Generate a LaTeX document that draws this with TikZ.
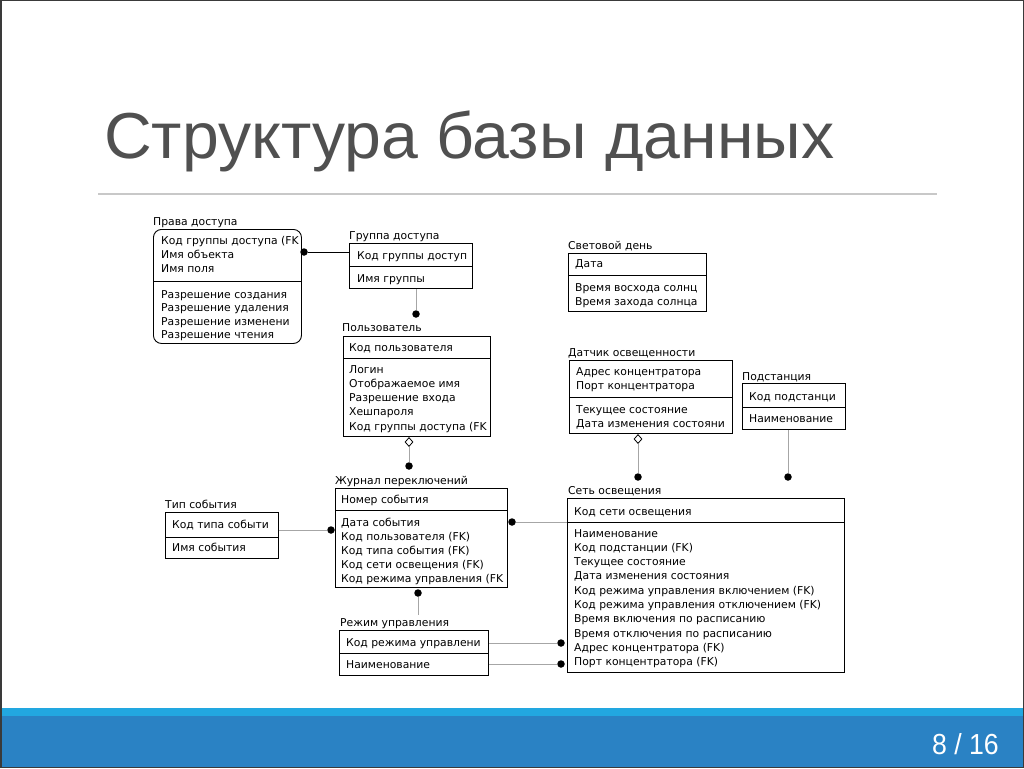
\documentclass[tikz,border=0pt]{standalone}
\usepackage{fontspec}
\setmainfont{DejaVu Sans}
\newfontfamily\tabfont{DejaVu Sans}
\newfontfamily\titlefont{Liberation Sans}
\usetikzlibrary{shapes.geometric}
\definecolor{titlegray}{HTML}{505050}
\definecolor{rulegray}{HTML}{C8C8C8}
\definecolor{linegray}{HTML}{A6A6A6}
\definecolor{barlight}{HTML}{22A7E0}
\definecolor{bardark}{HTML}{2A82C4}
\definecolor{framegray}{HTML}{3A3A3A}
\begin{document}
\begin{tikzpicture}[x=1pt,y=-1pt,
  tbl/.style={draw=black, line width=0.9pt, inner sep=0pt, anchor=north west},
  divl/.style={draw=black, line width=0.9pt},
  txt/.style={anchor=base west, inner sep=0pt, font=\tabfont\fontsize{10.8}{12}\selectfont},
  conn/.style={draw=linegray, line width=1pt},
  dot/.style={circle, fill=black, minimum size=7.5pt, inner sep=0pt},
  dia/.style={diamond, draw=black, fill=white, line width=0.8pt, minimum width=8pt, minimum height=9pt, inner sep=0pt}]
\useasboundingbox (0,0) rectangle (1024,768);
\fill[white] (0,0) rectangle (1024,768);
% title
\node[anchor=base west, inner sep=0pt, text=titlegray] (title) at (104,158)
  {\titlefont\fontsize{65}{65}\selectfont\scalebox{1.018}[1]{Структура базы данных}};
\draw[rulegray, line width=1.2pt] (98,194) -- (937,194);
% bottom bar
\fill[barlight] (0,708) rectangle (1024,716);
\fill[bardark] (0,716) rectangle (1024,768);
\node[anchor=base east, inner sep=0pt, text=white] (page) at (999,754)
  {\titlefont\fontsize{29}{29}\selectfont\scalebox{0.92}[1]{8 / 16}};
\draw[framegray, line width=1.5pt] (0.75,0.75) rectangle (1023.25,767.25);

% ---------- Права доступа
\node[tbl, rounded corners=8pt, minimum width=148pt, minimum height=114pt] (pd) at (153,229) {};
\node[txt] (pd-t) at (153,225) {Права доступа};
\draw[divl] (153,281) -- (301,281);
\begin{scope}
\clip (154,230) rectangle (300,342);
\foreach \t [count=\i from 0] in {Код группы доступа (FK, Имя объекта, Имя поля}
  \node[txt] (pd-k\i) at (161,244+14*\i) {\t};
\foreach \t [count=\i from 0] in {Разрешение создания, Разрешение удаления, Разрешение изменени, Разрешение чтения}
  \node[txt] (pd-a\i) at (161,298+13.6*\i) {\t};
\end{scope}

% ---------- Группа доступа
\node[tbl, minimum width=123pt, minimum height=45pt] (ga) at (349,243) {};
\node[txt] (ga-t) at (349,239) {Группа доступа};
\draw[divl] (349,266) -- (472,266);
\begin{scope}
\clip (350,244) rectangle (471,287);
\node[txt] (ga-k0) at (357,259) {Код группы доступ};
\node[txt] (ga-a0) at (357,282) {Имя группы};
\end{scope}

% ---------- Световой день
\node[tbl, minimum width=138pt, minimum height=58pt] (sd) at (568,253) {};
\node[txt] (sd-t) at (568,249) {Световой день};
\draw[divl] (568,275) -- (706,275);
\begin{scope}
\clip (569,254) rectangle (705,310);
\node[txt] (sd-k0) at (575,267) {Дата};
\node[txt] (sd-a0) at (575,291) {Время восхода солнц};
\node[txt] (sd-a1) at (575,305) {Время захода солнца};
\end{scope}

% ---------- Пользователь
\node[tbl, minimum width=147pt, minimum height=100pt] (us) at (343,336) {};
\node[txt] (us-t) at (342,331) {Пользователь};
\draw[divl] (343,358) -- (490,358);
\begin{scope}
\clip (344,337) rectangle (489,435);
\node[txt] (us-k0) at (349,351) {Код пользователя};
\foreach \t [count=\i from 0] in {Логин, Отображаемое имя, Разрешение входа, Хешпароля, Код группы доступа (FK}
  \node[txt] (us-a\i) at (349,373+14.3*\i) {\t};
\end{scope}

% ---------- Датчик освещенности
\node[tbl, minimum width=163pt, minimum height=73pt] (dt) at (569,360) {};
\node[txt] (dt-t) at (568,356) {Датчик освещенности};
\draw[divl] (569,397) -- (732,397);
\begin{scope}
\clip (570,361) rectangle (731,432);
\node[txt] (dt-k0) at (576,375) {Адрес концентратора};
\node[txt] (dt-k1) at (576,389) {Порт концентратора};
\node[txt] (dt-a0) at (576,413) {Текущее состояние};
\node[txt] (dt-a1) at (576,427) {Дата изменения состояни};
\end{scope}

% ---------- Подстанция
\node[tbl, minimum width=103pt, minimum height=46pt] (ps) at (742,383) {};
\node[txt] (ps-t) at (742,380) {Подстанция};
\draw[divl] (742,407) -- (845,407);
\begin{scope}
\clip (743,384) rectangle (844,428);
\node[txt] (ps-k0) at (749,400) {Код подстанци};
\node[txt] (ps-a0) at (749,422) {Наименование};
\end{scope}

% ---------- Тип события
\node[tbl, minimum width=113pt, minimum height=46pt] (te) at (165,512) {};
\node[txt] (te-t) at (165,508) {Тип события};
\draw[divl] (165,537) -- (278,537);
\begin{scope}
\clip (166,513) rectangle (277,557);
\node[txt] (te-k0) at (172,528) {Код типа событи};
\node[txt] (te-a0) at (172,551) {Имя события};
\end{scope}

% ---------- Журнал переключений
\node[tbl, minimum width=172pt, minimum height=99pt] (jr) at (335,488) {};
\node[txt] (jr-t) at (335,484) {Журнал переключений};
\draw[divl] (335,510) -- (507,510);
\begin{scope}
\clip (336,489) rectangle (506,586);
\node[txt] (jr-k0) at (341,503) {Номер события};
\foreach \t [count=\i from 0] in {Дата события, Код пользователя (FK), Код типа события (FK), Код сети освещения (FK), Код режима управления (FK}
  \node[txt] (jr-a\i) at (341,526+14*\i) {\t};
\end{scope}

% ---------- Сеть освещения
\node[tbl, minimum width=277pt, minimum height=174pt] (so) at (567,498) {};
\node[txt] (so-t) at (568,494) {Сеть освещения};
\draw[divl] (567,522) -- (844,522);
\begin{scope}
\clip (568,499) rectangle (843,671);
\node[txt] (so-k0) at (574,515) {Код сети освещения};
\foreach \t [count=\i from 0] in {Наименование, Код подстанции (FK), Текущее состояние, Дата изменения состояния, Код режима управления включением (FK), Код режима управления отключением (FK), Время включения по расписанию, Время отключения по расписанию, Адрес концентратора (FK), Порт концентратора (FK)}
  \node[txt] (so-a\i) at (574,537+14.3*\i) {\t};
\end{scope}

% ---------- Режим управления
\node[tbl, minimum width=149pt, minimum height=45pt] (rm) at (339,630) {};
\node[txt] (rm-t) at (340,626) {Режим управления};
\draw[divl] (339,653) -- (488,653);
\begin{scope}
\clip (340,631) rectangle (487,674);
\node[txt] (rm-k0) at (346,646) {Код режима управлени};
\node[txt] (rm-a0) at (346,668) {Наименование};
\end{scope}

% ---------- connectors
% Права доступа -- Группа доступа
\node[dot] (d1) at (304,252) {};
\draw[black, line width=1pt] (d1) -- (d1 -| ga.west);
% Группа доступа -- Пользователь
\node[dot] (d2) at (416,314) {};
\draw[conn] (d2 |- ga.south) -- (d2);
% Пользователь -- Журнал
\node[dia] (m3) at (409,442) {};
\node[dot] (d3) at (409,466) {};
\draw[conn] (m3) -- (d3);
% Датчик -- Сеть
\node[dia] (m4) at (638,439) {};
\node[dot] (d4) at (638,477) {};
\draw[conn] (m4) -- (d4);
% Подстанция -- Сеть
\node[dot] (d5) at (788,477) {};
\draw[conn] (d5 |- ps.south) -- (d5);
% Тип события -- Журнал
\node[dot] (d6) at (331,530) {};
\draw[conn] (d6 -| te.east) -- (d6);
% Журнал -- Сеть
\node[dot] (d7) at (512,522) {};
\draw[conn] (d7) -- (d7 -| so.west);
% Журнал -- Режим
\node[dot] (d8) at (418,593) {};
\coordinate (e8) at (418,615);
\draw[conn] (d8) -- (e8);
% Режим -- Сеть
\node[dot] (d9) at (561,643) {};
\node[dot] (d10) at (561,664) {};
\draw[conn] (d9 -| rm.east) -- (d9);
\draw[conn] (d10 -| rm.east) -- (d10);
\end{tikzpicture}
\end{document}
